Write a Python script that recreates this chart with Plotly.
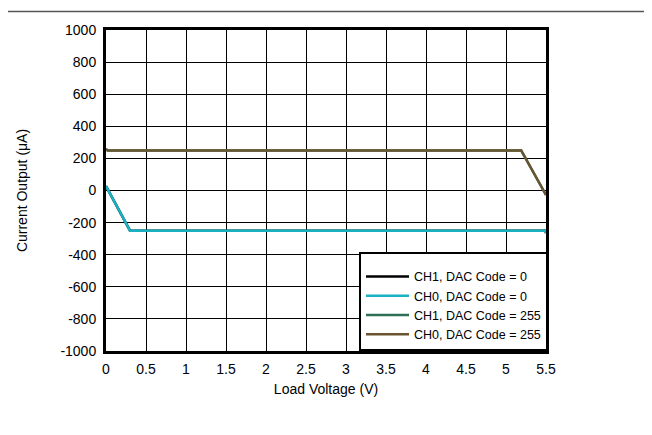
import plotly.graph_objects as go

# Data
x_dac0 = [0, 0.3, 5.49, 5.5]
ch1_dac0 = [28, -250, -250, -265]
ch0_dac0 = [28, -250, -250, -265]

x_dac255 = [0, 0.02, 5.19, 5.5]
ch1_dac255 = [258, 250, 250, -28]
ch0_dac255 = [258, 250, 250, -28]

series = [
    ("CH1, DAC Code = 0", x_dac0, ch1_dac0, "#000000"),
    ("CH0, DAC Code = 0", x_dac0, ch0_dac0, "#1ab1c3"),
    ("CH1, DAC Code = 255", x_dac255, ch1_dac255, "#2f6f55"),
    ("CH0, DAC Code = 255", x_dac255, ch0_dac255, "#6b5531"),
]

x_ticks = [0, 0.5, 1, 1.5, 2, 2.5, 3, 3.5, 4, 4.5, 5, 5.5]
x_ticktext = ["0", "0.5", "1", "1.5", "2", "2.5", "3", "3.5", "4", "4.5", "5", "5.5"]
y_ticks = [-1000, -800, -600, -400, -200, 0, 200, 400, 600, 800, 1000]
y_ticktext = ["-1000", "-800", "-600", "-400", "-200", "0", "200", "400", "600", "800", "1000"]

FONT = "Liberation Sans, Arial, sans-serif"
FS = 14
FS_LEG = 12.5

L, R, T, B = 98, 114, 22, 92
PW = 652 - L - R
PH = 435 - T - B

fig = go.Figure()
for name, xs, ys, color in series:
    fig.add_trace(go.Scatter(x=xs, y=ys, mode="lines", name=name,
                             line=dict(color=color, width=2.5)))

fig.update_layout(
    width=652, height=435,
    margin=dict(l=L, r=R, t=T, b=B),
    paper_bgcolor="white", plot_bgcolor="white",
    font=dict(family=FONT, size=FS, color="#000000"),
    showlegend=True,
    legend=dict(x=0.575, xanchor="left", y=0, yanchor="bottom",
                bgcolor="white", bordercolor="black", borderwidth=2,
                font=dict(family=FONT, size=FS_LEG), tracegroupgap=0,
                itemwidth=43,
                title=dict(text=" ", font=dict(family=FONT, size=6))),
    xaxis=dict(range=[0, 5.5], tickvals=x_ticks, ticktext=x_ticktext,
               showgrid=True, gridcolor="black", gridwidth=1,
               showline=True, linecolor="black", linewidth=3, mirror=True,
               zeroline=False, ticks="", ticklabelstandoff=3,
               title=dict(text="Load Voltage (V)", standoff=9,
                          font=dict(family=FONT, size=FS))),
    yaxis=dict(range=[-1000, 1000], tickvals=y_ticks, ticktext=y_ticktext,
               showgrid=True, gridcolor="black", gridwidth=1,
               showline=True, linecolor="black", linewidth=3, mirror=True,
               zeroline=False, ticks="", ticklabelstandoff=4,
               title=dict(text="Current Output (μA)", standoff=30,
                          font=dict(family=FONT, size=FS))),
    shapes=[dict(type="line", xref="paper", yref="paper",
                 x0=-L / PW, x1=1 + R / PW,
                 y0=1 + (T - 3.5) / PH, y1=1 + (T - 3.5) / PH,
                 line=dict(color="#555555", width=1.5))],
)

fig.write_html("out.html")
